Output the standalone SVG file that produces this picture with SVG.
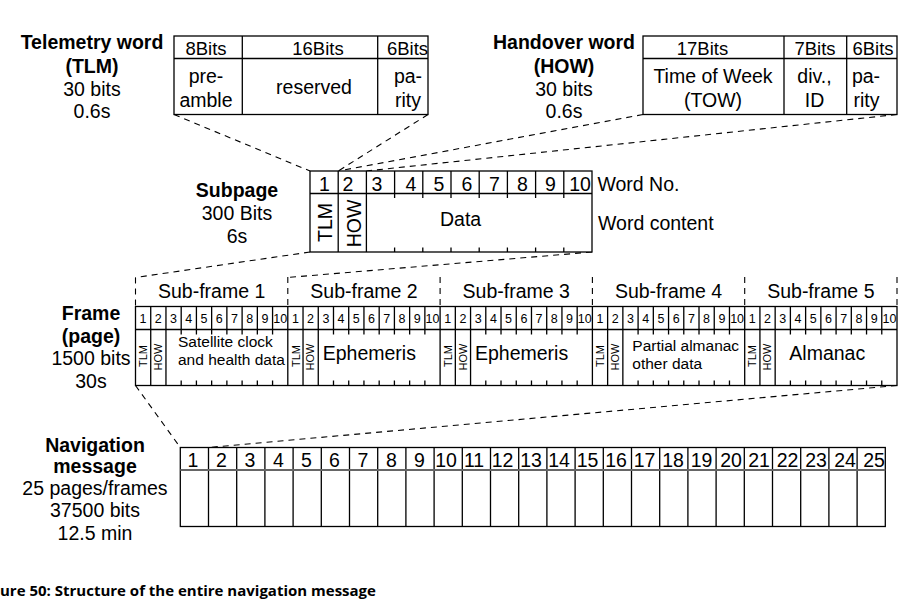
<svg xmlns="http://www.w3.org/2000/svg" xmlns:xlink="http://www.w3.org/1999/xlink" width="908" height="605" viewBox="0 0 908 605">
<style>
.box{fill:#fff;stroke:#000;stroke-width:1.3}
.ln{fill:none;stroke:#000;stroke-width:1.3}
.dash{fill:none;stroke:#000;stroke-width:1.1;stroke-dasharray:6 5}
.t{font-family:"Liberation Sans",Arial,Helvetica,sans-serif;font-size:19.5px;fill:#000}
.h{font-size:18.5px}
.b{font-weight:bold}
.m{text-anchor:middle}
.d{font-size:12.5px;text-anchor:middle}
.r{font-size:11px;text-anchor:middle}
.s{font-size:15.5px}
.cap{font-family:"Open Sans","Noto Sans",sans-serif;font-weight:bold;font-size:15px;fill:#000}
</style>
<defs>
<path id="sfgrid" class="ln" d="M15.23 306.5V385.5M30.46 306.5V385.5M45.69 306.5v28M60.92 306.5v28M76.15 306.5v28M91.38 306.5v28M106.61 306.5v28M121.84 306.5v28M137.07 306.5v28M45.69 380.5v5M60.92 380.5v5M76.15 380.5v5M91.38 380.5v5M106.61 380.5v5M121.84 380.5v5M137.07 380.5v5"/>
</defs>
<rect width="908" height="605" fill="#fff"/>

<g id="connectors">
<path class="dash" d="M174 114.5L310 171M428 114.5L338.2 171M643 114.5L338.2 171M897 114.5L366.4 171"/>
<path class="dash" d="M310 252L135.5 277.5M592 252L287.8 277.5"/>
<path class="dash" d="M135.5 385.5L180.3 447.5M897 385.5L208.5 447.5"/>
</g>

<g id="tlm-word">
<text class="t b m" x="92" y="49">Telemetry word</text>
<text class="t b m" x="92" y="72.5">(TLM)</text>
<text class="t m" x="92" y="96">30 bits</text>
<text class="t m" x="92" y="118">0.6s</text>
<rect class="box" x="174" y="36" width="254" height="78.5"/>
<path class="ln" d="M174 58.5H428M242.3 36V114.5M377.7 36V114.5"/>
<text class="t h m" x="206" y="54.5">8Bits</text>
<text class="t h m" x="318" y="54.5">16Bits</text>
<text class="t h m" x="407.5" y="54.5">6Bits</text>
<text class="t m" x="206" y="82.5">pre-</text>
<text class="t m" x="206" y="107">amble</text>
<text class="t m" x="314" y="93.5">reserved</text>
<text class="t m" x="408" y="82.5">pa-</text>
<text class="t m" x="408" y="107">rity</text>
</g>

<g id="how-word">
<text class="t b m" x="564" y="49">Handover word</text>
<text class="t b m" x="564" y="72.5">(HOW)</text>
<text class="t m" x="564" y="96">30 bits</text>
<text class="t m" x="564" y="118">0.6s</text>
<rect class="box" x="643" y="36" width="254" height="78.5"/>
<path class="ln" d="M643 58.5H897M784 36V114.5M846.7 36V114.5"/>
<text class="t h m" x="702.5" y="54.5">17Bits</text>
<text class="t h m" x="815" y="54.5">7Bits</text>
<text class="t h m" x="873" y="54.5">6Bits</text>
<text class="t m" x="713" y="82.5">Time of Week</text>
<text class="t m" x="713" y="107">(TOW)</text>
<text class="t m" x="814.5" y="82.5">div.,</text>
<text class="t m" x="814.5" y="107">ID</text>
<text class="t m" x="866" y="82.5">pa-</text>
<text class="t m" x="866.5" y="107">rity</text>
</g>

<g id="subpage">
<text class="t b m" x="237" y="197">Subpage</text>
<text class="t m" x="237" y="220">300 Bits</text>
<text class="t m" x="237" y="242.5">6s</text>
<rect class="box" x="310" y="171" width="282" height="81"/>
<path class="ln" d="M310 193.5H592M338.2 171V252M366.4 171V252M394.6 171v27M422.8 171v27M451 171v27M479.2 171v27M507.4 171v27M535.6 171v27M563.8 171v27M394.6 247.5v4.5M422.8 247.5v4.5M451 247.5v4.5M479.2 247.5v4.5M507.4 247.5v4.5M535.6 247.5v4.5M563.8 247.5v4.5"/>
<text class="t m" x="324.5" y="191">1</text>
<text class="t m" x="348" y="191">2</text>
<text class="t m" x="377" y="191">3</text>
<text class="t m" x="411" y="191">4</text>
<text class="t m" x="439" y="191">5</text>
<text class="t m" x="467" y="191">6</text>
<text class="t m" x="494.5" y="191">7</text>
<text class="t m" x="522.5" y="191">8</text>
<text class="t m" x="550.5" y="191">9</text>
<text class="t m" x="580" y="191">10</text>
<text class="t m" x="331.5" y="222.5" transform="rotate(-90 331.5 222.5)">TLM</text>
<text class="t m" x="360.5" y="223.5" transform="rotate(-90 360.5 223.5)">HOW</text>
<text class="t m" x="460.6" y="226">Data</text>
<text class="t" x="597.4" y="191">Word No.</text>
<text class="t" x="598" y="230">Word content</text>
</g>

<g id="frame">
<text class="t b m" x="91" y="320">Frame</text>
<text class="t b m" x="91" y="342.5">(page)</text>
<text class="t m" x="91" y="365">1500 bits</text>
<text class="t m" x="91" y="387.5">30s</text>
<path class="dash" d="M135.5 277.5V306.5M287.8 277V306.5M440.1 277V306.5M592.4 277V306.5M744.7 277V306.5M897 277V306.5"/>
<rect class="box" x="135.5" y="306.5" width="761.5" height="79"/>
<path class="ln" d="M135.5 329.5H897M287.8 306.5V385.5M440.1 306.5V385.5M592.4 306.5V385.5M744.7 306.5V385.5"/>

<g id="subframe-1" transform="translate(135.5 0)">
<use xlink:href="#sfgrid"/>
<text class="t m" x="76.15" y="298">Sub-frame 1</text>
<text class="t d" x="7.6" y="323.3">1</text><text class="t d" x="22.8" y="323.3">2</text><text class="t d" x="38.1" y="323.3">3</text><text class="t d" x="53.3" y="323.3">4</text><text class="t d" x="68.5" y="323.3">5</text><text class="t d" x="83.8" y="323.3">6</text><text class="t d" x="99" y="323.3">7</text><text class="t d" x="114.2" y="323.3">8</text><text class="t d" x="129.5" y="323.3">9</text><text class="t d" x="144.7" y="323.3">10</text>
<text class="t r" x="11.7" y="356" transform="rotate(-90 11.7 356)">TLM</text>
<text class="t r" x="26.6" y="357" transform="rotate(-90 26.6 357)">HOW</text>
<text class="t s" x="42.5" y="346.5">Satellite clock</text>
<text class="t s" x="42.5" y="364.5">and health data</text>
</g>

<g id="subframe-2" transform="translate(287.8 0)">
<use xlink:href="#sfgrid"/>
<text class="t m" x="76.15" y="298">Sub-frame 2</text>
<text class="t d" x="7.6" y="323.3">1</text><text class="t d" x="22.8" y="323.3">2</text><text class="t d" x="38.1" y="323.3">3</text><text class="t d" x="53.3" y="323.3">4</text><text class="t d" x="68.5" y="323.3">5</text><text class="t d" x="83.8" y="323.3">6</text><text class="t d" x="99" y="323.3">7</text><text class="t d" x="114.2" y="323.3">8</text><text class="t d" x="129.5" y="323.3">9</text><text class="t d" x="144.7" y="323.3">10</text>
<text class="t r" x="11.7" y="356" transform="rotate(-90 11.7 356)">TLM</text>
<text class="t r" x="26.6" y="357" transform="rotate(-90 26.6 357)">HOW</text>
<text class="t" x="34.9" y="360">Ephemeris</text>
</g>

<g id="subframe-3" transform="translate(440.1 0)">
<use xlink:href="#sfgrid"/>
<text class="t m" x="76.15" y="298">Sub-frame 3</text>
<text class="t d" x="7.6" y="323.3">1</text><text class="t d" x="22.8" y="323.3">2</text><text class="t d" x="38.1" y="323.3">3</text><text class="t d" x="53.3" y="323.3">4</text><text class="t d" x="68.5" y="323.3">5</text><text class="t d" x="83.8" y="323.3">6</text><text class="t d" x="99" y="323.3">7</text><text class="t d" x="114.2" y="323.3">8</text><text class="t d" x="129.5" y="323.3">9</text><text class="t d" x="144.7" y="323.3">10</text>
<text class="t r" x="11.7" y="356" transform="rotate(-90 11.7 356)">TLM</text>
<text class="t r" x="26.6" y="357" transform="rotate(-90 26.6 357)">HOW</text>
<text class="t" x="34.9" y="360">Ephemeris</text>
</g>

<g id="subframe-4" transform="translate(592.4 0)">
<use xlink:href="#sfgrid"/>
<text class="t m" x="76.15" y="298">Sub-frame 4</text>
<text class="t d" x="7.6" y="323.3">1</text><text class="t d" x="22.8" y="323.3">2</text><text class="t d" x="38.1" y="323.3">3</text><text class="t d" x="53.3" y="323.3">4</text><text class="t d" x="68.5" y="323.3">5</text><text class="t d" x="83.8" y="323.3">6</text><text class="t d" x="99" y="323.3">7</text><text class="t d" x="114.2" y="323.3">8</text><text class="t d" x="129.5" y="323.3">9</text><text class="t d" x="144.7" y="323.3">10</text>
<text class="t r" x="11.7" y="356" transform="rotate(-90 11.7 356)">TLM</text>
<text class="t r" x="26.6" y="357" transform="rotate(-90 26.6 357)">HOW</text>
<text class="t s" x="39.9" y="351">Partial almanac</text>
<text class="t s" x="39.9" y="369">other data</text>
</g>

<g id="subframe-5" transform="translate(744.7 0)">
<use xlink:href="#sfgrid"/>
<text class="t m" x="76.15" y="298">Sub-frame 5</text>
<text class="t d" x="7.6" y="323.3">1</text><text class="t d" x="22.8" y="323.3">2</text><text class="t d" x="38.1" y="323.3">3</text><text class="t d" x="53.3" y="323.3">4</text><text class="t d" x="68.5" y="323.3">5</text><text class="t d" x="83.8" y="323.3">6</text><text class="t d" x="99" y="323.3">7</text><text class="t d" x="114.2" y="323.3">8</text><text class="t d" x="129.5" y="323.3">9</text><text class="t d" x="144.7" y="323.3">10</text>
<text class="t r" x="11.7" y="356" transform="rotate(-90 11.7 356)">TLM</text>
<text class="t r" x="26.6" y="357" transform="rotate(-90 26.6 357)">HOW</text>
<text class="t" x="44.6" y="360">Almanac</text>
</g>
</g>

<g id="navigation-message">
<text class="t b m" x="95" y="451.5">Navigation</text>
<text class="t b m" x="95" y="473">message</text>
<text class="t m" x="95" y="495">25 pages/frames</text>
<text class="t m" x="95" y="517.3">37500 bits</text>
<text class="t m" x="95" y="540">12.5 min</text>
<rect class="box" x="180.3" y="447.5" width="705" height="79"/>
<path class="ln" d="M208.5 447.5V526.5M236.7 447.5V526.5M264.9 447.5V526.5M293.1 447.5V526.5M321.3 447.5V526.5M349.5 447.5V526.5M377.7 447.5V526.5M405.9 447.5V526.5M434.1 447.5V526.5M462.3 447.5V526.5M490.5 447.5V526.5M518.7 447.5V526.5M546.9 447.5V526.5M575.1 447.5V526.5M603.3 447.5V526.5M631.5 447.5V526.5M659.7 447.5V526.5M687.9 447.5V526.5M716.1 447.5V526.5M744.3 447.5V526.5M772.5 447.5V526.5M800.7 447.5V526.5M828.9 447.5V526.5M857.1 447.5V526.5"/>
<path d="M180.3 470H885.3" fill="none" stroke="#666" stroke-width="2"/>
<text class="t m" x="193" y="466.5">1</text>
<text class="t m" x="221.5" y="466.5">2</text>
<text class="t m" x="250" y="466.5">3</text>
<text class="t m" x="278.5" y="466.5">4</text>
<text class="t m" x="306.5" y="466.5">5</text>
<text class="t m" x="334.5" y="466.5">6</text>
<text class="t m" x="363" y="466.5">7</text>
<text class="t m" x="391.5" y="466.5">8</text>
<text class="t m" x="419.5" y="466.5">9</text>
<text class="t m" x="446" y="466.5">10</text>
<text class="t m" x="474" y="466.5">11</text>
<text class="t m" x="502.5" y="466.5">12</text>
<text class="t m" x="531" y="466.5">13</text>
<text class="t m" x="559" y="466.5">14</text>
<text class="t m" x="587.5" y="466.5">15</text>
<text class="t m" x="616" y="466.5">16</text>
<text class="t m" x="644.5" y="466.5">17</text>
<text class="t m" x="673" y="466.5">18</text>
<text class="t m" x="701.5" y="466.5">19</text>
<text class="t m" x="731" y="466.5">20</text>
<text class="t m" x="759" y="466.5">21</text>
<text class="t m" x="787.5" y="466.5">22</text>
<text class="t m" x="816" y="466.5">23</text>
<text class="t m" x="845" y="466.5">24</text>
<text class="t m" x="874" y="466.5">25</text>
</g>

<g id="caption">
<text class="cap" x="0" y="596">ure 50: Structure of the entire navigation message</text>
</g>
</svg>
